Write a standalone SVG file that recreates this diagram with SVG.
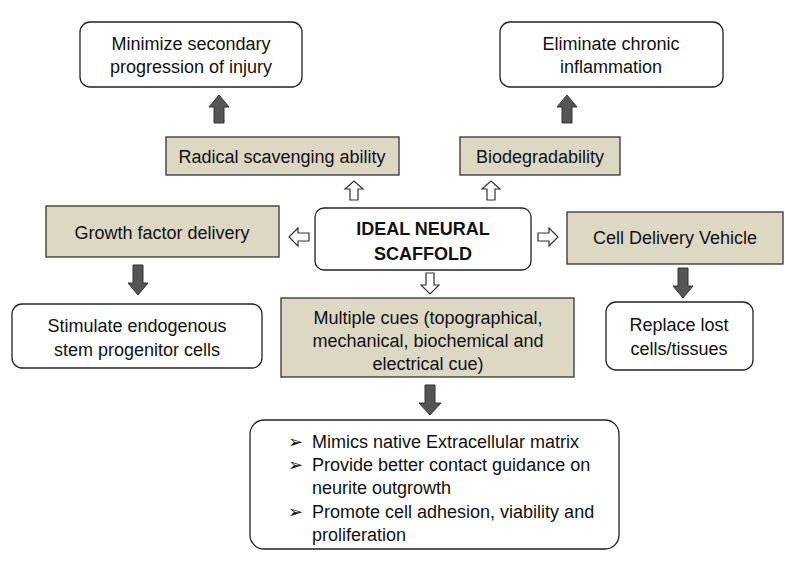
<svg xmlns="http://www.w3.org/2000/svg" width="785" height="573" viewBox="0 0 785 573">
<style>
text{font-family:"Liberation Sans",Arial,sans-serif;font-size:18px;fill:#111;text-anchor:middle}
.s{text-anchor:start}
.w{fill:#fff;stroke:#222;stroke-width:1.3}
.t{fill:#ddd8c4;stroke:#333;stroke-width:1.3}
.d{fill:#555;stroke:#333;stroke-width:1}
.h{fill:#fff;stroke:#333;stroke-width:1.2}
</style>
<rect width="785" height="573" fill="#fff"/>
<g id="n1"><rect class="w" x="80" y="22" width="222" height="65" rx="10"/><text x="191" y="50">Minimize secondary</text><text x="191" y="73">progression of injury</text></g>
<g id="n2"><rect class="w" x="500" y="22" width="223" height="65" rx="10"/><text x="611" y="50">Eliminate chronic</text><text x="611" y="73">inflammation</text></g>
<g id="n3"><rect class="t" x="166" y="137" width="233" height="38"/><text x="282" y="163">Radical scavenging ability</text></g>
<g id="n4"><rect class="t" x="460" y="137" width="160" height="38"/><text x="540" y="163">Biodegradability</text></g>
<g id="n5"><rect class="w" x="315" y="208" width="216" height="62" rx="9"/><text x="423" y="235" style="font-weight:bold">IDEAL NEURAL</text><text x="423" y="260" style="font-weight:bold">SCAFFOLD</text></g>
<g id="n6"><rect class="t" x="46" y="206" width="233" height="51"/><text x="162" y="239">Growth factor delivery</text></g>
<g id="n7"><rect class="t" x="567" y="212" width="216" height="52"/><text x="675" y="244">Cell Delivery Vehicle</text></g>
<g id="n8"><rect class="w" x="12" y="304" width="250" height="64" rx="10"/><text x="137" y="332">Stimulate endogenous</text><text x="137" y="356">stem progenitor cells</text></g>
<g id="n9"><rect class="w" x="606" y="302" width="147" height="68" rx="10"/><text x="679" y="331">Replace lost</text><text x="679" y="355">cells/tissues</text></g>
<g id="n10"><rect class="t" x="281" y="298" width="293" height="79"/><text x="428" y="324">Multiple cues (topographical,</text><text x="428" y="347">mechanical, biochemical and</text><text x="428" y="370">electrical cue)</text></g>
<g id="n11"><rect class="w" x="250" y="420" width="369" height="129" rx="14"/>
<text x="288" y="448" class="s">➢</text><text x="312" y="448" class="s">Mimics native Extracellular matrix</text>
<text x="288" y="471" class="s">➢</text><text x="312" y="471" class="s">Provide better contact guidance on</text>
<text x="312" y="494" class="s">neurite outgrowth</text>
<text x="288" y="518" class="s">➢</text><text x="312" y="518" class="s">Promote cell adhesion, viability and</text>
<text x="312" y="541" class="s">proliferation</text></g>
<g id="connectors">
<path class="d" d="M214 123v-16h-5l10-12 10 12h-5v16z"/>
<path class="d" d="M562 123v-16h-5l10-12 10 12h-5v16z"/>
<path class="h" d="M350 200v-11h-5l9-8 9 8h-5v11z"/>
<path class="h" d="M487 200v-11h-5l9-8 9 8h-5v11z"/>
<path class="h" d="M309 233h-11v-5l-9 9 9 9v-5h11z"/>
<path class="h" d="M538 233h11v-5l9 9-9 9v-5h-11z"/>
<path class="h" d="M426 273v12h-5l9 9 9-9h-5v-12z"/>
<path class="d" d="M133 265v18h-5l10 12 10-12h-5v-18z"/>
<path class="d" d="M678 268v18h-5l10 12 10-12h-5v-18z"/>
<path class="d" d="M425 385v18h-6l11 12 11-12h-6v-18z"/>
</g>
</svg>
